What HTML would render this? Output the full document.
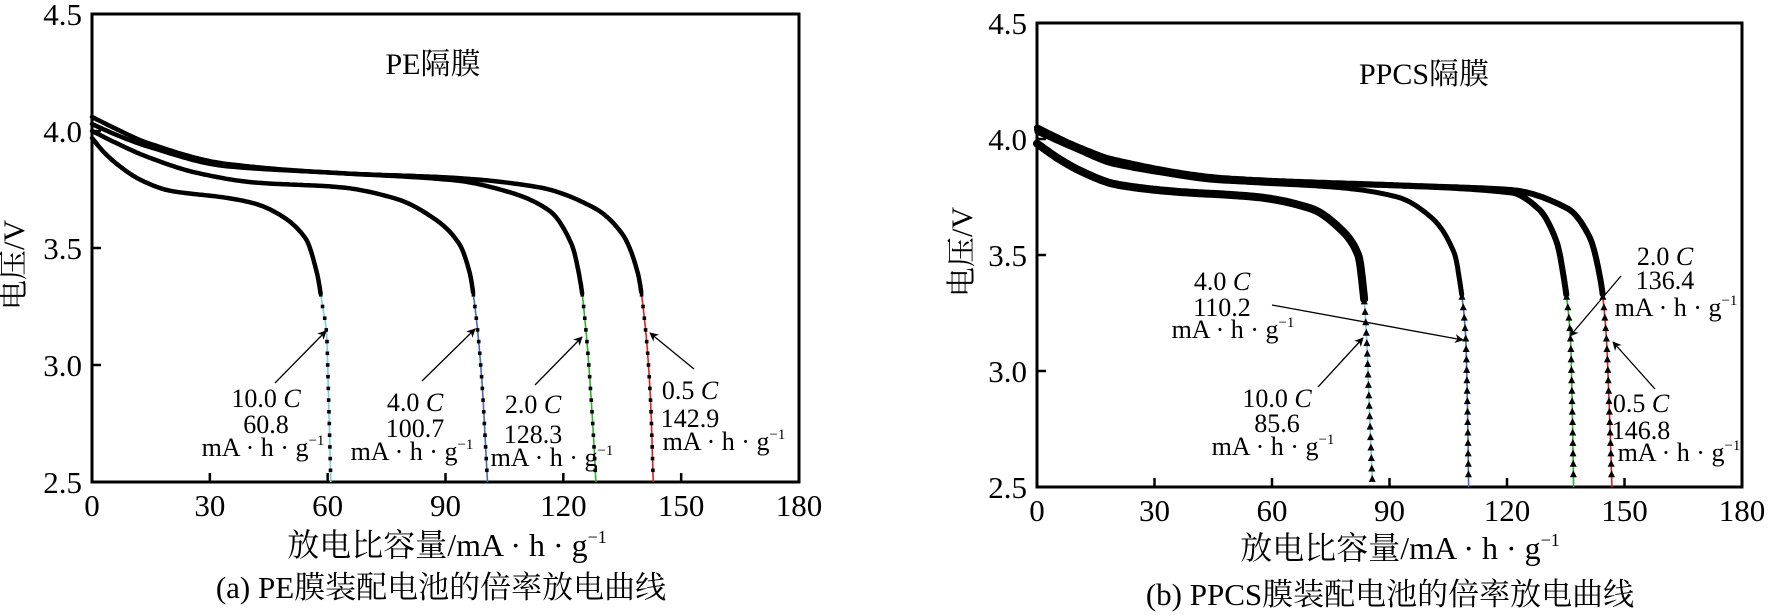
<!DOCTYPE html>
<html><head><meta charset="utf-8">
<style>
html,body{margin:0;padding:0;background:#fff;}
svg{display:block;font-family:"Liberation Serif","Noto Serif CJK SC",serif;}
</style></head>
<body>
<svg id="fig" width="1776" height="615" viewBox="0 0 1776 615" xmlns="http://www.w3.org/2000/svg">
<defs>
<marker id="ah" viewBox="0 0 10 10" refX="9" refY="5" markerWidth="9" markerHeight="9" orient="auto" markerUnits="userSpaceOnUse">
<path d="M0,0 L10,5 L0,10 L3,5 Z" fill="#000"/>
</marker>
</defs>
<g id="panelA"></g>
<g id="panelB"></g>
</svg>
<script>
// ---- data (capacity mA·h/g, voltage V) ----
const xTicks = [0,30,60,90,120,150,180];
const yTicks = [2.5,3.0,3.5,4.0,4.5];
const yTickLabels = ["2.5","3.0","3.5","4.0","4.5"];

const pe05Cap = [0,6,14,34,63,92,113.6,128,135,139,141,142.2,142.9];
const pe05V   = [4.06,4.01,3.95,3.86,3.82,3.80,3.76,3.67,3.56,3.39,3.14,2.85,2.5];
const pe2Cap  = [0,6,14,34,63,92,106,116.4,122,124.4,125.8,127.3,128.3];
const pe2V    = [4.03,3.985,3.935,3.85,3.82,3.79,3.74,3.66,3.52,3.35,3.14,2.80,2.5];
const pe4Cap  = [0,6,14,27,41.4,63,77.5,87.6,93.4,96.2,97.7,99.1,100.7];
const pe4V    = [4.00,3.95,3.89,3.82,3.78,3.76,3.71,3.62,3.52,3.39,3.22,2.97,2.5];
const pe10Cap = [0,3,7,12.5,19.8,34,41.4,48,54.4,57.3,58.7,59.7,60.2,60.8];
const pe10V   = [3.97,3.91,3.85,3.79,3.745,3.715,3.69,3.64,3.54,3.39,3.25,3.14,2.88,2.5];

const pp05Cap = [0,10,19.8,48.7,92,121,135.5,141,144,145.3,146.2,146.8];
const pp05V   = [4.05,3.97,3.91,3.83,3.80,3.78,3.70,3.58,3.38,3.16,2.8,2.5];
const pp2Cap  = [0,10,19.8,48.7,92,121,128,132.6,134.7,136.2,136.7,137.0];
const pp2V    = [4.04,3.96,3.90,3.82,3.80,3.77,3.70,3.56,3.38,3.14,2.8,2.5];
const pp4Cap  = [0,10,19.8,48.7,77.6,92,100.8,106.5,108,109.4,109.9,110.2];
const pp4V    = [4.03,3.955,3.89,3.82,3.79,3.75,3.66,3.51,3.38,3.16,2.85,2.5];
const pp10Cap = [0,6,12,20,34,56,70,77.6,82,83.4,84.1,84.9,85.6];
const pp10V   = [3.98,3.91,3.855,3.805,3.775,3.75,3.70,3.61,3.50,3.33,3.16,2.82,2.53];

const NS="http://www.w3.org/2000/svg";
function mk(tag, attrs, parent){const e=document.createElementNS(NS,tag);for(const k in attrs)e.setAttribute(k,attrs[k]);parent.appendChild(e);return e;}

function makeScale(box){
  const xs = v => box.x0 + (v-0)/(180-0)*(box.x1-box.x0);
  const ys = v => box.y1 - (v-2.5)/(4.5-2.5)*(box.y1-box.y0);
  return {xs, ys};
}

function densify(cap, vol){
  const n=cap.length, d=[], m=new Array(n);
  for(let i=0;i<n-1;i++) d.push((vol[i+1]-vol[i])/(cap[i+1]-cap[i]));
  m[0]=d[0]; m[n-1]=d[n-2];
  for(let i=1;i<n-1;i++){ m[i]=(d[i-1]*d[i]<=0)?0:2/(1/d[i-1]+1/d[i]); }
  const out=[];
  for(let i=0;i<n-1;i++){
    const h=cap[i+1]-cap[i];
    const N=Math.max(6,Math.ceil(Math.abs(vol[i+1]-vol[i])*60)+Math.ceil(h));
    for(let k=0;k<N;k++){
      const t=k/N,t2=t*t,t3=t2*t;
      const v=(2*t3-3*t2+1)*vol[i]+(t3-2*t2+t)*h*m[i]+(-2*t3+3*t2)*vol[i+1]+(t3-t2)*h*m[i+1];
      out.push([cap[i]+t*h,v]);
    }
  }
  out.push([cap[n-1],vol[n-1]]);
  return out;
}
function capAtV(dense,v){
  for(let i=0;i<dense.length-1;i++){
    const a=dense[i],b=dense[i+1];
    if(a[1]>=v && b[1]<=v){const f=(a[1]-v)/((a[1]-b[1])||1);return a[0]+f*(b[0]-a[0]);}
  }
  return dense[dense.length-1][0];
}

function drawAxes(g, box, sc){
  const {xs,ys}=sc;
  const fr=mk('rect',{x:box.x0,y:box.y0,width:box.x1-box.x0,height:box.y1-box.y0,fill:'none',stroke:'#000','stroke-width':3},g);
  
  
  xTicks.forEach(t=>{
    if(t>0&&t<180){
      const l=mk('line',{x1:xs(t),x2:xs(t),y1:box.y1,y2:box.y1-9,stroke:'#000','stroke-width':2.5},g);
      
      
    }
    const tx=mk('text',{x:xs(t),y:box.y1+34,'font-size':31,'text-anchor':'middle'},g);
    tx.textContent=String(t);
    
    
  });
  yTicks.forEach((t,i)=>{
    if(t>2.5&&t<4.5){
      const l=mk('line',{x1:box.x0,x2:box.x0+9,y1:ys(t),y2:ys(t),stroke:'#000','stroke-width':2.5},g);
      
      
    }
    const tx=mk('text',{x:box.x0-10,y:ys(t)+11,'font-size':31,'text-anchor':'end'},g);
    tx.textContent=yTickLabels[i];
    
    
  });
}

function drawCurve(g, sc, cap, vol, opt){
  const {xs,ys}=sc;
  const dense=densify(cap,vol);
  const head=dense.filter(p=>p[1]>=opt.tail);
  const tail=dense.filter(p=>p[1]<=opt.tail+0.02);
  const toD=pts=>pts.map((p,i)=>(i?'L':'M')+xs(p[0]).toFixed(1)+','+ys(p[1]).toFixed(1)).join(' ');
  const tl=mk('path',{d:toD(tail),fill:'none',stroke:opt.color,'stroke-width':1.6},g);
  
  
  const p=mk('path',{d:toD(head),fill:'none',stroke:'#000','stroke-width':opt.w,'stroke-linecap':'round','stroke-linejoin':'round'},g);
  
  
  for(let v=opt.tail; v>=2.5+opt.endGap; v-=opt.step){
    const cx=xs(capAtV(dense,v)), cy=ys(v);
    let m;
    if(opt.tri){
      m=mk('path',{d:`M${cx},${cy-4} L${cx+3.5},${cy+3} L${cx-3.5},${cy+3} Z`,fill:'#000'},g);
    } else {
      m=mk('rect',{x:cx-1.8,y:cy-1.8,width:3.6,height:3.6,fill:'#000'},g);
    }
    
    
  }
}

function label(g, x, c1, c2, rate, val, name){
  const t1=mk('text',{x:x,y:c1+9,'font-size':26,'text-anchor':'middle'},g);
  t1.innerHTML=rate+' <tspan font-style="italic">C</tspan>';
  
  
  const t2=mk('text',{x:x,y:c2+9,'font-size':26,'text-anchor':'middle'},g);
  t2.textContent=val;
  
  
}
function unit(g, x, y, name){
  const t=mk('text',{x:x,y:y+9,'font-size':26,'text-anchor':'middle'},g);
  t.innerHTML='mA · h · g<tspan font-size="15" dy="-11">−1</tspan>';
  
  
}
function arrow(g,x1,y1,x2,y2,name){
  const a=mk('line',{x1,y1,x2,y2,stroke:'#000','stroke-width':1.3,'marker-end':'url(#ah)'},g);
  
  
}
function txt(g,x,y,size,s,name,extra){
  const t=mk('text',Object.assign({x,y,'font-size':size,'text-anchor':'middle'},extra||{}),g);
  t.innerHTML=s;
  
  
  return t;
}

// ---- Panel A ----
const gA=document.getElementById('panelA');
const boxA={x0:92,x1:799,y0:14,y1:482};
const scA=makeScale(boxA);
drawAxes(gA,boxA,scA);
drawCurve(gA,scA,pe05Cap,pe05V,{w:4.5,color:'#e02020',tail:3.3,step:0.05,endGap:0.03,name:'pe-0.5c'});
drawCurve(gA,scA,pe2Cap,pe2V,{w:4.5,color:'#30b030',tail:3.3,step:0.05,endGap:0.03,name:'pe-2c'});
drawCurve(gA,scA,pe4Cap,pe4V,{w:4.5,color:'#4a6ab0',tail:3.3,step:0.05,endGap:0.03,name:'pe-4c'});
drawCurve(gA,scA,pe10Cap,pe10V,{w:4.5,color:'#7fd0d8',tail:3.3,step:0.05,endGap:0.03,name:'pe-10c'});
txt(gA,433,74,30,'PE隔膜','panel-a-title');
label(gA,266,398,424,'10.0','60.8','pe-10c'); unit(gA,263,447,'pe-10c'); arrow(gA,275,383,326,331,'pe-10c');
label(gA,415,402,428,'4.0','100.7','pe-4c'); unit(gA,412,451,'pe-4c'); arrow(gA,422,381,475,329,'pe-4c');
label(gA,533,404,434,'2.0','128.3','pe-2c'); unit(gA,552,457,'pe-2c'); arrow(gA,535,385,582,337,'pe-2c');
label(gA,690,390,418,'0.5','142.9','pe-0.5c'); unit(gA,724,441,'pe-0.5c'); arrow(gA,694,369,650,333,'pe-0.5c');
txt(gA,447,556,32,'放电比容量/mA · h · g<tspan font-size="18" dy="-13">−1</tspan>','x-axis-title-a');
txt(gA,441,598,31,'(a) PE膜装配电池的倍率放电曲线','caption-a');
txt(gA,0,0,30,'电压/V','y-axis-title-a',{transform:'translate(24,265) rotate(-90)'});

// ---- Panel B ----
const gB=document.getElementById('panelB');
const boxB={x0:1037,x1:1742,y0:23,y1:487};
const scB=makeScale(boxB);
drawAxes(gB,boxB,scB);
drawCurve(gB,scB,pp05Cap,pp05V,{w:6,color:'#e02020',tail:3.32,step:0.045,endGap:0.03,tri:true,name:'ppcs-0.5c'});
drawCurve(gB,scB,pp2Cap,pp2V,{w:6,color:'#30b030',tail:3.32,step:0.045,endGap:0.03,tri:true,name:'ppcs-2c'});
drawCurve(gB,scB,pp4Cap,pp4V,{w:5,color:'#4a6ab0',tail:3.32,step:0.045,endGap:0.03,tri:true,name:'ppcs-4c'});
drawCurve(gB,scB,pp10Cap,pp10V,{w:8,color:'#7fd0d8',tail:3.3,step:0.045,endGap:0.02,tri:true,name:'ppcs-10c'});
txt(gB,1424,84,30,'PPCS隔膜','panel-b-title');
label(gB,1222,281,307,'4.0','110.2','ppcs-4c'); unit(gB,1233,329,'ppcs-4c'); arrow(gB,1272,305,1463,340,'ppcs-4c');
label(gB,1277,398,423,'10.0','85.6','ppcs-10c'); unit(gB,1273,446,'ppcs-10c'); arrow(gB,1318,387,1363,338,'ppcs-10c');
label(gB,1665,256,280,'2.0','136.4','ppcs-2c'); unit(gB,1676,307,'ppcs-2c'); arrow(gB,1621,276,1570,336,'ppcs-2c');
label(gB,1641,403,430,'0.5','146.8','ppcs-0.5c'); unit(gB,1679,452,'ppcs-0.5c'); arrow(gB,1655,389,1613,342,'ppcs-0.5c');
txt(gB,1400,559,32,'放电比容量/mA · h · g<tspan font-size="18" dy="-13">−1</tspan>','x-axis-title-b');
txt(gB,1390,605,31,'(b) PPCS膜装配电池的倍率放电曲线','caption-b');
txt(gB,0,0,30,'电压/V','y-axis-title-b',{transform:'translate(972,252) rotate(-90)'});
</script>
</body></html>
